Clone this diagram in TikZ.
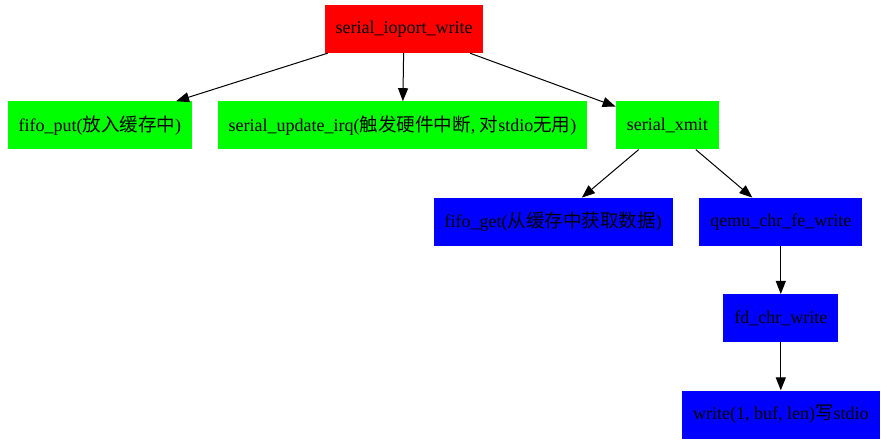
\documentclass[tikz,border=0pt]{standalone}
\usepackage{fontspec}
\setmainfont{Liberation Serif}
\newfontfamily\cjk[Scale=1.03]{Noto Sans CJK SC}
\usetikzlibrary{positioning,arrows.meta}
\tikzset{
  fn/.style={rectangle, minimum height=48pt, inner xsep=11pt, font=\fontsize{18}{20}\selectfont},
  hot/.style={fn, fill=red},
  mid/.style={fn, fill=green},
  low/.style={fn, fill=blue},
  call/.style={-{Triangle[length=13pt,width=10pt]}, line width=1pt}
}

\begin{document}
\begin{tikzpicture}[x=1pt, y=-1pt, node distance=48pt and 25pt]
    \useasboundingbox (0,0) rectangle (887,443);

    \node[hot] (ioport) at (404,29) {serial\_ioport\_write};
    \node[mid, below=of ioport, xshift=-1.5pt] (irq) {serial\_update\_irq({\cjk 触发硬件中断}, {\cjk 对}stdio{\cjk 无用})};
    \node[mid, left=of irq] (put) {fifo\_put({\cjk 放入缓存中})};
    \node[mid, right=28pt of irq] (xmit) {serial\_xmit};
    \node[low, below=of xmit, xshift=113.5pt] (fe) {qemu\_chr\_fe\_write};
    \node[low, left=26pt of fe] (get) {fifo\_get({\cjk 从缓存中获取数据})};
    \node[low, below=of fe] (fd) {fd\_chr\_write};
    \node[low, below=of fd] (wr) {write(1, buf, len){\cjk 写}stdio};

    \draw[call] (ioport) -- (put);
    \draw[call] (ioport) -- (irq);
    \draw[call] (ioport) -- (xmit);
    \draw[call] (xmit) -- (get);
    \draw[call] (xmit) -- (fe);
    \draw[call] (fe) -- (fd);
    \draw[call] (fd) -- (wr);

  \end{tikzpicture}
\end{document}
